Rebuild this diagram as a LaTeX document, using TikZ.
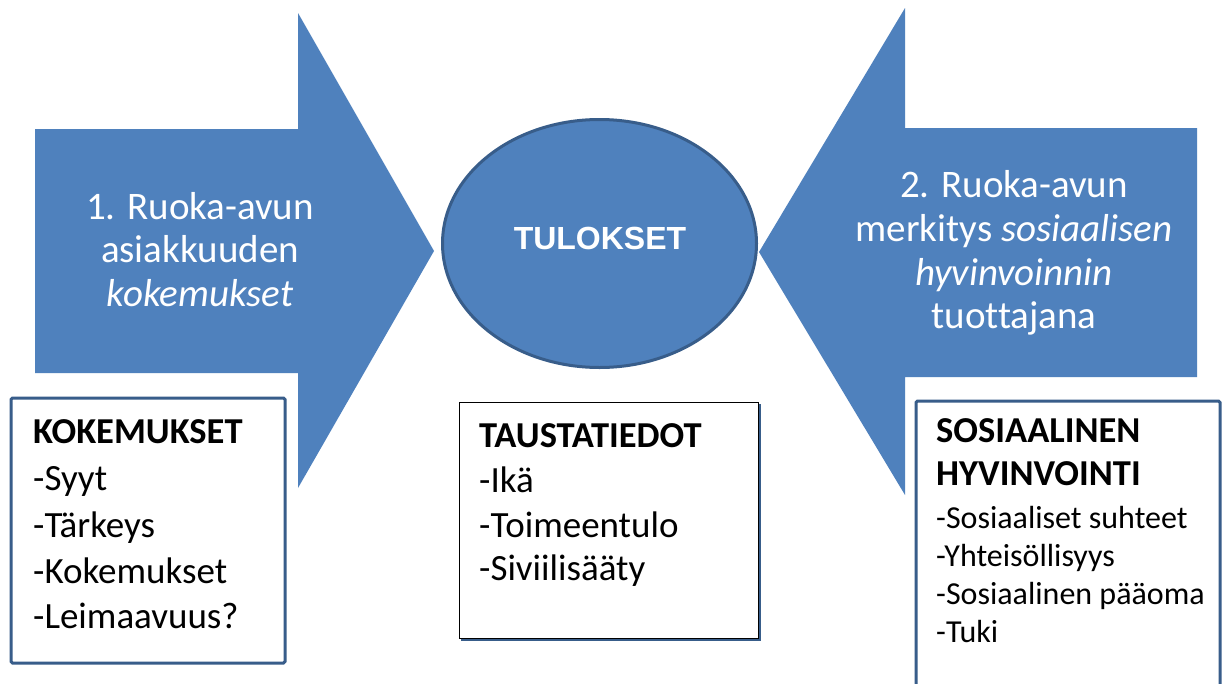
\documentclass[tikz,border=0pt]{standalone}
\usepackage{fontspec}
\setmainfont{Carlito}[Ligatures=NoCommon]
\newfontfamily\arialfont{Liberation Sans}
\usetikzlibrary{shapes.geometric}
\definecolor{ofblue}{HTML}{4F81BD}
\definecolor{ofdark}{HTML}{385D8A}
\begin{document}
\begin{tikzpicture}[x=1pt,y=-1pt,
  arrowfill/.style={fill=ofblue},
  arrowtext/.style={text=white, font=\fontsize{39}{44}\selectfont, anchor=base, inner sep=0pt},
  bluebox/.style={draw=ofdark, line width=3pt, fill=white, rounded corners=1.5pt, anchor=north west, inner sep=0pt},
  plainbox/.style={draw=black, line width=1.5pt, fill=white, anchor=north west, inner sep=0pt},
  headtext/.style={anchor=base west, inner sep=0pt, font=\fontsize{36.5}{44}\selectfont\bfseries},
  itemtext/.style={anchor=base west, inner sep=0pt, font=\fontsize{37}{44}\selectfont},
  smallitem/.style={anchor=base west, inner sep=0pt, font=\fontsize{32}{38}\selectfont}]
\useasboundingbox (0,0) rectangle (1224,683);
\fill[white] (0,0) rectangle (1224,683);
% arrows
\fill[arrowfill] (35,129) -- (298,129) -- (298,13) -- (434,251) -- (298,488) -- (298,373) -- (35,373) -- cycle;
\fill[arrowfill] (1197,128) -- (905,128) -- (905,8) -- (759,252) -- (905,495) -- (905,377) -- (1197,377) -- cycle;
% arrow texts
\node[arrowtext] (l1) at (200,219) {1. Ruoka-avun};
\node[arrowtext] (l2) at (200,262) {asiakkuuden};
\node[arrowtext] (l3) at (200,306) {\itshape kokemukset};
\node[arrowtext] (r1) at (1014,197) {2. Ruoka-avun};
\node[arrowtext] (r2) at (1014,241) {merkitys \textit{sosiaalisen}};
\node[arrowtext] (r3) at (1014,285) {\itshape hyvinvoinnin};
\node[arrowtext] (r4) at (1014,328) {tuottajana};
% central ellipse
\node[ellipse, fill=ofblue, draw=ofdark, line width=3pt, minimum width=314pt, minimum height=248pt, inner sep=0pt] (res) at (599.5,243.5) {};
\node[anchor=base, inner sep=0pt, text=white, font=\arialfont\bfseries\fontsize{32}{38}\selectfont] (restext) at (600,249) {TULOKSET};
% left box
\node[bluebox, minimum width=274pt, minimum height=265pt] (kok) at (9.5,396.5) {};
\node[headtext] (k0) at (33,443) {KOKEMUKSET};
\node[itemtext] (k1) at (33,490) {-Syyt};
\node[itemtext] (k2) at (33,537) {-Tärkeys};
\node[itemtext] (k3) at (33,583) {-Kokemukset};
\node[itemtext] (k4) at (33,628) {-Leimaavuus?};
% middle box
\fill[ofdark] (461,404) rectangle (761,641);
\node[plainbox, minimum width=299pt, minimum height=236pt] (tau) at (458.75,401.75) {};
\node[headtext] (t0) at (479,447) {TAUSTATIEDOT};
\node[itemtext] (t1) at (479,492) {-Ikä};
\node[itemtext] (t2) at (479,537) {-Toimeentulo};
\node[itemtext] (t3) at (479,580) {-Siviilisääty};
% right box
\node[bluebox, minimum width=304pt, minimum height=300pt] (sos) at (914.5,399.5) {};
\node[headtext] (s0) at (936,442) {SOSIAALINEN};
\node[headtext] (s1) at (936,485) {HYVINVOINTI};
\node[smallitem] (s2) at (936,528) {-Sosiaaliset suhteet};
\node[smallitem] (s3) at (936,566) {-Yhteisöllisyys};
\node[smallitem] (s4) at (936,604) {-Sosiaalinen pääoma};
\node[smallitem] (s5) at (936,642) {-Tuki};
\end{tikzpicture}
\end{document}
